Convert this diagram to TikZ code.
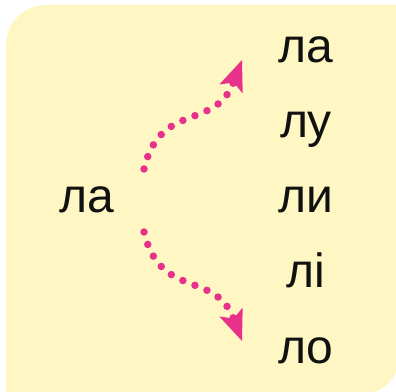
\documentclass[tikz,border=0pt]{standalone}
\usepackage{fontspec}
\setmainfont{Liberation Sans}
\usetikzlibrary{arrows.meta}
\definecolor{padyellow}{HTML}{FEF7C4}
\definecolor{dotpink}{HTML}{E8318A}
\definecolor{inkblack}{HTML}{111111}
\tikzset{
  syllable/.style={anchor=base, inkblack, inner sep=0pt, font=\fontsize{48}{56}\selectfont},
  dotarrow/.style={draw=dotpink, line width=7.5pt, line cap=round, dash pattern=on 0pt off 13pt,
    -{Stealth[length=31pt, width=25pt, inset=7pt, line width=0pt]}}
}
\begin{document}
\begin{tikzpicture}[x=1pt, y=1pt]
\useasboundingbox (0,0) rectangle (396,391);

% Background card
\fill[padyellow] (6,-4) -- (6,346) arc[start angle=180, end angle=90, radius=40]
  -- (400,386) -- (400,36) arc[start angle=0, end angle=-90, radius=40] -- cycle;

% Source syllable
\node[syllable] (src) at (87,178) {ла};

% Target syllables
\node[syllable] (la) at (306,328) {ла};
\node[syllable] (lu) at (306,253) {лу};
\node[syllable] (ly) at (306,178) {ли};
\node[syllable] (li) at (306,103) {лі};
\node[syllable] (lo) at (306,28) {ло};

% Arrow ends
\coordinate (upstart) at (144,222);
\coordinate (uptip) at (242,331);
\coordinate (downstart) at (144,159);
\coordinate (downtip) at (242,50);

% Dotted arrows
\draw[dotarrow] (upstart) .. controls (160,290) and (215,260) .. (uptip);
\draw[dotarrow] (downstart) .. controls (160,91) and (215,121) .. (downtip);
\end{tikzpicture}
\end{document}
